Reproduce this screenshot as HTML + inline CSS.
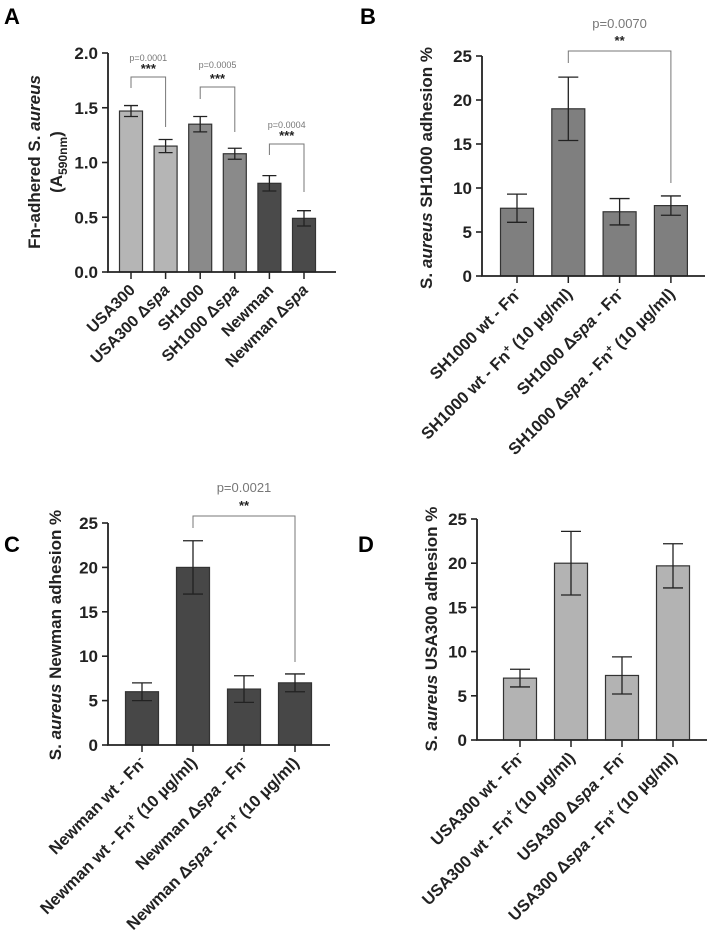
<!DOCTYPE html>
<html><head><meta charset="utf-8">
<style>
html,body{margin:0;padding:0;background:#fff;}
svg{display:block;font-family:"Liberation Sans",Arial,sans-serif;}
</style></head>
<body>
<svg id="fig" width="709" height="941" viewBox="0 0 709 941">
<text x="4" y="24" font-size="22" font-weight="bold">A</text>
<text x="360" y="24" font-size="22" font-weight="bold">B</text>
<text x="4" y="552" font-size="22" font-weight="bold">C</text>
<text x="358" y="552" font-size="22" font-weight="bold">D</text>
</svg>
<script>
// Panel A data
const aCats = ["USA300","USA300 Δspa","SH1000","SH1000 Δspa","Newman","Newman Δspa"];
const aVals = [1.47,1.15,1.35,1.08,0.81,0.49];
const aErr = [0.05,0.06,0.07,0.05,0.07,0.07];
const aTicks = ["0.0","0.5","1.0","1.5","2.0"];
const aPvals = ["p=0.0001","p=0.0005","p=0.0004"];
// Panel B data
const bCats = ["SH1000 wt - Fn","SH1000 wt - Fn","SH1000 Δspa - Fn","SH1000 Δspa - Fn"];
const bVals = [7.7,19.0,7.3,8.0];
const bErr = [1.6,3.6,1.5,1.1];
// Panel C data
const cCats = ["Newman wt - Fn","Newman wt - Fn","Newman Δspa - Fn","Newman Δspa - Fn"];
const cVals = [6.0,20.0,6.3,7.0];
const cErr = [1.0,3.0,1.5,1.0];
// Panel D data
const dCats = ["USA300 wt - Fn","USA300 wt - Fn","USA300 Δspa - Fn","USA300 Δspa - Fn"];
const dVals = [7.0,20.0,7.3,19.7];
const dErr = [1.0,3.6,2.1,2.5];
const pctTicks = ["0","5","10","15","20","25"];
const fnSigns = ["-","+","-","+"];
const fnSuffix = [""," (10 µg/ml)",""," (10 µg/ml)"];

const NS="http://www.w3.org/2000/svg";
const svg=document.getElementById('fig');
function mk(tag,attrs,parent){const e=document.createElementNS(NS,tag);for(const k in attrs)e.setAttribute(k,attrs[k]);(parent||svg).appendChild(e);return e;}

function panel(o){
  const g=mk('g',{});
  
  
  const y=v=>o.y0-(v/o.max)*(o.y0-o.yTop);
  const cx=i=>o.x0+o.step*i;
  o.vals.forEach((v,i)=>{
    const col=Array.isArray(o.color)?o.color[i]:o.color;
    const r=mk('rect',{x:cx(i)-o.bw/2,y:y(v),width:o.bw,height:o.y0-y(v),fill:col,stroke:'#333','stroke-width':1.2},g);
    
    
    const e=o.err[i];
    const eg=mk('path',{d:`M${cx(i)} ${y(v+e)}V${y(v-e)}M${cx(i)-o.cap} ${y(v+e)}H${cx(i)+o.cap}M${cx(i)-o.cap} ${y(v-e)}H${cx(i)+o.cap}`,stroke:'#222','stroke-width':1.3,fill:'none'},g);
    
    
    mk('line',{x1:cx(i),x2:cx(i),y1:o.y0,y2:o.y0+7,stroke:'#222','stroke-width':1.5},g);
    const t=mk('text',{x:0,y:0,'text-anchor':'end','font-size':o.xfs,'font-weight':'bold',fill:'#222',transform:`translate(${cx(i)+5},${o.y0+19}) rotate(-45)`},g);
    
    
    const lab=o.cats[i];
    const idx=lab.indexOf('Δspa');
    if(idx>=0){
      t.appendChild(document.createTextNode(lab.slice(0,idx)+'Δ'));
      const it=mk('tspan',{'font-style':'italic'},t);it.textContent='spa';
      t.appendChild(document.createTextNode(lab.slice(idx+4)));
    } else t.appendChild(document.createTextNode(lab));
    if(o.fn){
      const s=mk('tspan',{'font-size':o.xfs*0.65,dy:-6},t);s.textContent=fnSigns[i];
      const r2=mk('tspan',{dy:6},t);r2.textContent=fnSuffix[i]||'\u200b';
    }
  });
  const ax=mk('path',{d:`M${o.ax} ${o.yTop}V${o.y0}H${o.xEnd}`,stroke:'#222','stroke-width':1.8,fill:'none'},g);
  
  
  o.ticks.forEach(tk=>{
    const v=parseFloat(tk);
    mk('line',{x1:o.ax-6,x2:o.ax,y1:y(v),y2:y(v),stroke:'#222','stroke-width':1.6},g);
    const t=mk('text',{x:o.ax-10,y:y(v)+6,'text-anchor':'end','font-size':17,'font-weight':'bold',fill:'#222'},g);
    t.textContent=tk;
    
    
  });
  const tt=mk('text',{x:0,y:0,'text-anchor':'middle','font-size':o.tfs,'font-weight':'bold',fill:'#222',transform:`translate(${o.tx},${o.ty}) rotate(-90)`},g);
  
  
  o.title(tt);
  if(o.t2){const t2=mk('text',{x:0,y:0,'text-anchor':'middle','font-size':o.tfs,'font-weight':'bold',fill:'#222',transform:`translate(${o.tx+22},${o.ty}) rotate(-90)`},g);
    
    
    o.t2(t2);}
  (o.brackets||[]).forEach((b,k)=>{
    const x1=cx(b.i),x2=cx(b.j);
    const p=mk('path',{d:`M${x1} ${b.l}V${b.top}H${x2}V${b.r}`,stroke:'#777','stroke-width':1,fill:'none'},g);
    
    
    const pt=mk('text',{x:(x1+x2)/2,y:b.top-b.pg,'text-anchor':'middle','font-size':b.pfs,fill:'#777'},g);
    pt.textContent=b.p;
    
    
    const st=mk('text',{x:(x1+x2)/2,y:b.top-b.sg,'text-anchor':'middle','font-size':13,'font-weight':'bold',fill:'#222'},g);
    st.textContent=b.s;
    
    
  });
}
function saureus(t,rest){const a=mk('tspan',{},t);a.textContent='S. ';const b=mk('tspan',{'font-style':'italic'},t);b.textContent='aureus';t.appendChild(document.createTextNode(rest));}

panel({name:'panel-a-chart',cats:aCats,vals:aVals,err:aErr,ticks:aTicks,max:2,ax:108,xEnd:336,yTop:53,y0:272,x0:131,step:34.6,bw:23,cap:7,
  color:['#b5b5b5','#b5b5b5','#8a8a8a','#8a8a8a','#4a4a4a','#4a4a4a'],xfs:16,tfs:17,tx:40,ty:162,
  title:t=>{t.appendChild(document.createTextNode('Fn-adhered '));const a=mk('tspan',{},t);a.textContent='S. ';const b=mk('tspan',{'font-style':'italic'},t);b.textContent='aureus';},
  t2:t=>{t.appendChild(document.createTextNode('(A'));const s=mk('tspan',{'font-size':12,dy:5},t);s.textContent='590nm';const e=mk('tspan',{dy:-5},t);e.textContent=')';},
  brackets:[{i:0,j:1,top:77,l:88,r:127,p:aPvals[0],s:'***',pg:16,sg:4,pfs:9},
            {i:2,j:3,top:87,l:99,r:132,p:aPvals[1],s:'***',pg:19,sg:4,pfs:9},
            {i:4,j:5,top:144,l:155,r:192,p:aPvals[2],s:'***',pg:16,sg:4,pfs:9}]});

panel({name:'panel-b-chart',cats:bCats,vals:bVals,err:bErr,ticks:pctTicks,max:25,ax:482,xEnd:705,yTop:56,y0:276,x0:517,step:51.3,bw:33,cap:10,
  color:'#7f7f7f',xfs:16.5,tfs:17,tx:432,ty:168,fn:true,
  title:t=>saureus(t,' SH1000 adhesion %'),
  brackets:[{i:1,j:3,top:51,l:63,r:183,p:'p=0.0070',s:'**',pg:23,sg:6,pfs:13}]});

panel({name:'panel-c-chart',cats:cCats,vals:cVals,err:cErr,ticks:pctTicks,max:25,ax:108,xEnd:330,yTop:523,y0:745,x0:142,step:51,bw:33,cap:10,
  color:'#474747',xfs:16.5,tfs:17,tx:61,ty:635,fn:true,
  title:t=>saureus(t,' Newman adhesion %'),
  brackets:[{i:1,j:3,top:516,l:528,r:662,p:'p=0.0021',s:'**',pg:24,sg:6,pfs:13}]});

panel({name:'panel-d-chart',cats:dCats,vals:dVals,err:dErr,ticks:pctTicks,max:25,ax:477,xEnd:707,yTop:519,y0:740,x0:520,step:51,bw:33,cap:10,
  color:'#b3b3b3',xfs:16.5,tfs:17,tx:437,ty:629,fn:true,
  title:t=>saureus(t,' USA300 adhesion %')});
</script>
</body></html>
